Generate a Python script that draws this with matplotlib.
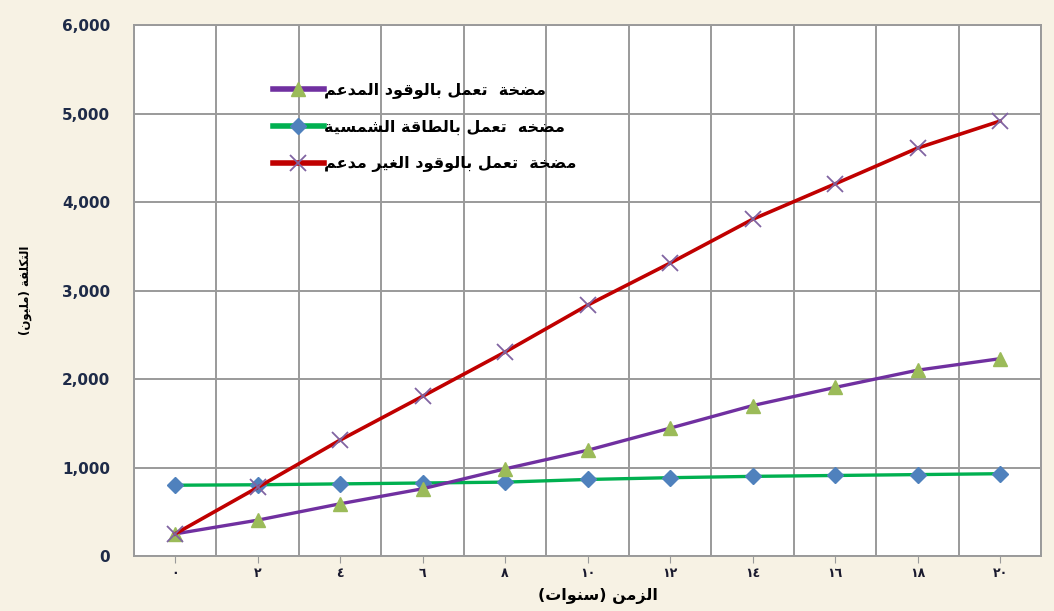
"""تكلفة المضخات على مدى عشرين سنة."""

import matplotlib
matplotlib.use("Agg")
import matplotlib.pyplot as plt
from matplotlib.lines import Line2D
from matplotlib.ticker import FixedLocator

# years, written with Arabic-Indic digits on the axis
years = [0, 2, 4, 6, 8, 10, 12, 14, 16, 18, 20]
year_labels = ["٠", "٢", "٤", "٦", "٨", "١٠", "١٢", "١٤", "١٦", "١٨", "٢٠"]

# cost (million)
subsidized_fuel = [250, 405, 590, 760, 985, 1195, 1445, 1700, 1905, 2100, 2230]
solar = [800, 805, 815, 825, 835, 865, 885, 900, 910, 920, 930]
unsubsidized_fuel = [250, 775, 1310, 1805, 2305, 2835, 3310, 3805, 4205, 4610, 4915]

label_subsidized = "مضخة  تعمل بالوقود المدعم"
label_solar = "مضخه  تعمل بالطاقة الشمسية"
label_unsubsidized = "مضخة  تعمل بالوقود الغير مدعم"
x_title = "الزمن (سنوات)"
y_title = "التكلفة (مليون)"

# presentation-form base code and number of forms for each letter
_FORMS = {
    "ء": (0xFE80, 1), "آ": (0xFE81, 2), "أ": (0xFE83, 2), "ؤ": (0xFE85, 2),
    "إ": (0xFE87, 2), "ئ": (0xFE89, 4), "ا": (0xFE8D, 2), "ب": (0xFE8F, 4),
    "ة": (0xFE93, 2), "ت": (0xFE95, 4), "ث": (0xFE99, 4), "ج": (0xFE9D, 4),
    "ح": (0xFEA1, 4), "خ": (0xFEA5, 4), "د": (0xFEA9, 2), "ذ": (0xFEAB, 2),
    "ر": (0xFEAD, 2), "ز": (0xFEAF, 2), "س": (0xFEB1, 4), "ش": (0xFEB5, 4),
    "ص": (0xFEB9, 4), "ض": (0xFEBD, 4), "ط": (0xFEC1, 4), "ظ": (0xFEC5, 4),
    "ع": (0xFEC9, 4), "غ": (0xFECD, 4), "ف": (0xFED1, 4), "ق": (0xFED5, 4),
    "ك": (0xFED9, 4), "ل": (0xFEDD, 4), "م": (0xFEE1, 4), "ن": (0xFEE5, 4),
    "ه": (0xFEE9, 4), "و": (0xFEED, 2), "ى": (0xFEEF, 2), "ي": (0xFEF1, 4),
}
_MIRROR = {"(": ")", ")": "("}


def shape(text: str) -> str:
    """Contextual letter forms + right-to-left order for plain Agg text."""
    out = []
    for i, ch in enumerate(text):
        if ch not in _FORMS:
            out.append(ch)
            continue
        base, n = _FORMS[ch]
        prev = text[i - 1] if i > 0 else ""
        nxt = text[i + 1] if i + 1 < len(text) else ""
        join_prev = prev in _FORMS and _FORMS[prev][1] == 4 and n > 1
        join_next = n == 4 and nxt in _FORMS and _FORMS[nxt][1] > 1
        if join_prev and join_next:
            off = 3
        elif join_prev:
            off = 1
        elif join_next:
            off = 2
        else:
            off = 0
        out.append(chr(base + off))
    return "".join(_MIRROR.get(c, c) for c in reversed(out))


plt.rcParams["font.family"] = ["DejaVu Sans"]

BG = "#F7F2E4"
GRID = "#9A9A9A"

STYLES = {
    "solar": dict(color="#00B050", linewidth=2.4, marker="D", markersize=8,
                  markerfacecolor="#4F81BD", markeredgecolor="#4F81BD"),
    "subsidized": dict(color="#7030A0", linewidth=2.4, marker="^", markersize=10,
                       markerfacecolor="#9BBB59", markeredgecolor="#9BBB59"),
    "unsubsidized": dict(color="#C00000", linewidth=2.6, marker="x", markersize=11,
                         markeredgewidth=1.3, markeredgecolor="#8064A2"),
}

fig = plt.figure(figsize=(10.54, 6.11), dpi=100, facecolor=BG)
ax = fig.add_axes([0.127, 0.090, 0.861, 0.869])
ax.set_facecolor("white")

x = list(range(len(years)))
ax.plot(x, solar, zorder=3, **STYLES["solar"])
ax.plot(x, subsidized_fuel, zorder=4, **STYLES["subsidized"])
ax.plot(x, unsubsidized_fuel, zorder=5, **STYLES["unsubsidized"])

ax.set_xlim(-0.5, len(years) - 0.5)
ax.set_ylim(0, 6000)
ax.set_yticks(range(0, 6001, 1000))
ax.set_yticklabels([f"{v:,}" for v in range(0, 6001, 1000)], fontsize=11,
                   fontweight="bold", color="#1E2B48")
ax.set_xticks(x)
ax.set_xticklabels(year_labels, fontsize=9, fontweight="bold", color="#1A1A2E")
ax.xaxis.set_minor_locator(FixedLocator([i + 0.5 for i in range(-1, len(years))]))
ax.tick_params(axis="x", which="major", length=5, color=GRID, pad=3)
ax.tick_params(axis="x", which="minor", length=0)
ax.tick_params(axis="y", length=0, pad=17)
ax.grid(True, axis="y", color=GRID, linewidth=1.4)
ax.grid(True, axis="x", which="minor", color=GRID, linewidth=1.4)
ax.set_axisbelow(True)
for sp in ax.spines.values():
    sp.set_color(GRID)
    sp.set_linewidth(1.4)

fig.text(0.567, 0.024, shape(x_title), ha="center", va="center", fontsize=11.5, fontweight="bold")
fig.text(0.024, 0.525, shape(y_title), ha="center", va="center", rotation=90,
         fontsize=8.5, fontweight="bold")

# legend handles drawn a little heavier than the plotted lines
legend_handles = [
    Line2D([], [], **{**STYLES["subsidized"], "linewidth": 4}),
    Line2D([], [], **{**STYLES["solar"], "linewidth": 4}),
    Line2D([], [], **{**STYLES["unsubsidized"], "linewidth": 4}),
]
legend_labels = [shape(label_subsidized), shape(label_solar), shape(label_unsubsidized)]
ax.legend(legend_handles, legend_labels,
          loc="upper left", bbox_to_anchor=(0.245, 0.889), bbox_transform=fig.transFigure,
          frameon=False, handlelength=3.2, handletextpad=0.0, labelspacing=1.35,
          prop={"size": 11.5, "weight": "bold"})

fig.savefig("out.png", dpi=100, facecolor=BG)
